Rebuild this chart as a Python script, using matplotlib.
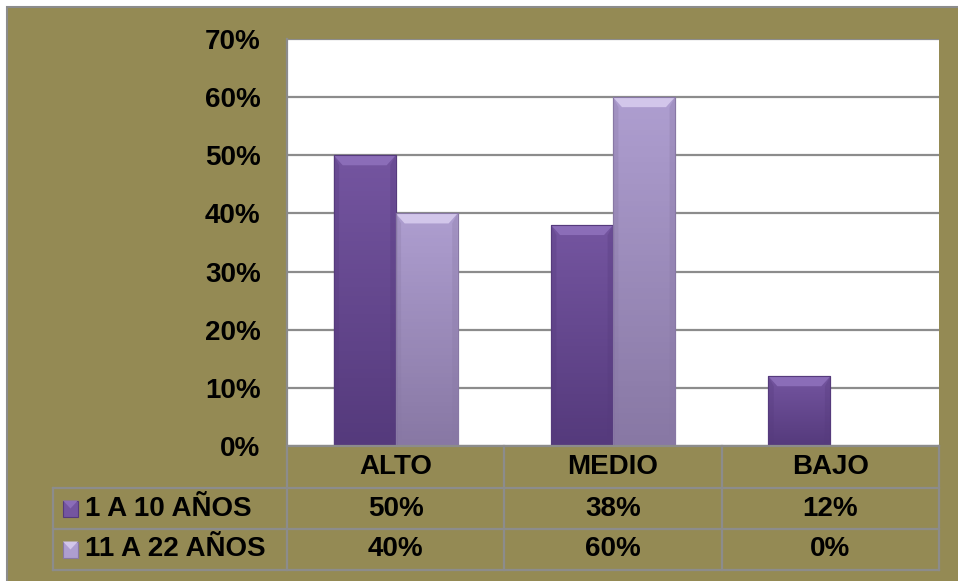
import matplotlib.pyplot as plt
import numpy as np
from matplotlib.patches import Rectangle, Polygon
from matplotlib.colors import LinearSegmentedColormap
import matplotlib.transforms as mtransforms

plt.rcParams['font.family'] = ['Liberation Sans', 'DejaVu Sans']

# datos
categorias = ['ALTO', 'MEDIO', 'BAJO']
series = ['1 A 10 AÑOS', '11 A 22 AÑOS']
valores_1a10 = [50, 38, 12]
valores_11a22 = [40, 60, 0]
yticks = [0, 10, 20, 30, 40, 50, 60, 70]

fondo = '#948A54'
gris = '#8C8C8C'
# (bisel, arriba, abajo)
colores = [('#8B6DB8', '#7455A0', '#553A7C'), ('#D2C6EA', '#AE9ED0', '#8878A4')]
fs = 20

W, H = 958, 581
fig = plt.figure(figsize=(W / 100, H / 100), dpi=100, facecolor='white')

# marco de fondo
fig.patches.append(Rectangle((7 / W, -0.01), 0.999, (H - 7) / H + 0.01, transform=fig.transFigure,
                             facecolor=fondo, edgecolor=gris, linewidth=1.5, zorder=-10))

ax = fig.add_axes([287 / W, 135 / H, 652 / W, 407 / H])
ax.set_facecolor('white')

x = np.arange(len(categorias))
ancho = 0.285
todas = [valores_1a10, valores_11a22]

for i, vals in enumerate(todas):
    claro, medio, oscuro = colores[i]
    cmap = LinearSegmentedColormap.from_list('g', [medio, oscuro])
    barras = ax.bar(x + (i - 0.5) * ancho, vals, ancho, color=medio, edgecolor=oscuro,
                    linewidth=0.8, zorder=2)
    for b in barras:
        x0, w, h = b.get_x(), b.get_width(), b.get_height()
        if h <= 0:
            continue
        grad = np.linspace(0, 1, 64).reshape(-1, 1)
        im = ax.imshow(grad, cmap=cmap, extent=[x0, x0 + w, 0, h], aspect='auto',
                       zorder=2.1, origin='upper')
        im.set_clip_path(b)
        bx = 9 / 217.3
        by = min(10 * 70 / 407, h / 2)
        # bisel superior
        ax.add_patch(Polygon([(x0, h), (x0 + w, h), (x0 + w - bx, h - by), (x0 + bx, h - by)],
                             closed=True, facecolor=claro, edgecolor='none', zorder=2.2))
        # bordes laterales
        ax.add_patch(Polygon([(x0, h), (x0 + bx * 0.6, h - by), (x0 + bx * 0.6, 0), (x0, 0)],
                             closed=True, facecolor=oscuro, alpha=0.3, edgecolor='none', zorder=2.2))
        ax.add_patch(Polygon([(x0 + w, h), (x0 + w - bx * 0.6, h - by), (x0 + w - bx * 0.6, 0), (x0 + w, 0)],
                             closed=True, facecolor=oscuro, alpha=0.3, edgecolor='none', zorder=2.2))
        ax.add_patch(Rectangle((x0, 0), w, h, facecolor='none', edgecolor=oscuro, linewidth=0.8, zorder=2.3))

ax.set_xlim(-0.5, 2.5)
ax.set_ylim(0, 70)
ax.set_yticks(yticks)
ax.set_yticklabels([f'{v}%' for v in yticks], fontsize=fs, fontweight='bold')
ax.tick_params(axis='y', length=0, pad=19)
ax.set_xticks([])
ax.grid(axis='y', color=gris, linewidth=1.6)
ax.set_axisbelow(True)
for s in ['top', 'right', 'bottom']:
    ax.spines[s].set_visible(False)
ax.spines['left'].set_color(gris)
ax.spines['left'].set_linewidth(1.6)

# tabla de datos
tr = mtransforms.blended_transform_factory(ax.transData, ax.transAxes)
fy = lambda p: -p / 407
filas = [0, fy(42), fy(83), fy(124)]
izq = -0.5 - 234 / 217.3
lw = 1.6
kw = dict(transform=tr, color=gris, linewidth=lw, clip_on=False, zorder=3)

for yy in filas[1:]:
    ax.plot([izq, 2.5], [yy, yy], **kw)
ax.plot([-0.5, 2.5], [0, 0], **kw)
ax.plot([izq, izq], [filas[1], filas[3]], **kw)
for xx in [-0.5, 0.5, 1.5, 2.5]:
    ax.plot([xx, xx], [0, filas[3]], **kw)

for j, c in enumerate(categorias):
    ax.text(x[j], (filas[0] + filas[1]) / 2, c, transform=tr, ha='center', va='center',
            fontsize=fs, fontweight='bold')

for i, (nombre, vals) in enumerate(zip(series, todas)):
    yc = (filas[i + 1] + filas[i + 2]) / 2
    for j, v in enumerate(vals):
        ax.text(x[j], yc, f'{v}%', transform=tr, ha='center', va='center',
                fontsize=fs, fontweight='bold')
    # marcador de leyenda
    mx = izq + 10 / 217.3
    mw = 15 / 217.3
    mh = 16 / 407
    claro, medio, oscuro = colores[i]
    ax.add_patch(Rectangle((mx, yc - mh / 2), mw, mh, transform=tr, facecolor=medio,
                           edgecolor=oscuro, linewidth=0.8, clip_on=False, zorder=3))
    ax.add_patch(Polygon([(mx, yc + mh / 2), (mx + mw, yc + mh / 2), (mx + mw / 2, yc)],
                         transform=tr, facecolor=claro, edgecolor='none', clip_on=False, zorder=3.1))
    ax.text(izq + 32 / 217.3, yc, nombre, transform=tr, ha='left', va='center',
            fontsize=fs, fontweight='bold')

ax.set_xlim(-0.5, 2.5)
ax.set_ylim(0, 70)

fig.savefig('out.png', dpi=100)
